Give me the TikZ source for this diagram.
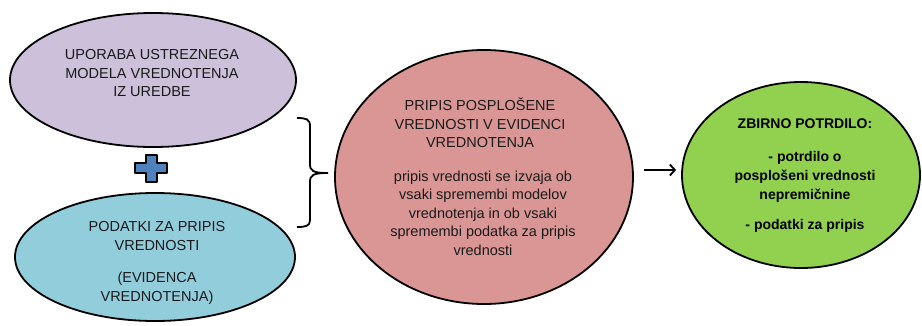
\documentclass[tikz,border=0pt]{standalone}
\usepackage{fontspec}
\setmainfont{Liberation Sans}
\usetikzlibrary{shapes.geometric,arrows.meta}
\definecolor{cPurple}{HTML}{CCC0DA}
\definecolor{cBlue}{HTML}{92CDDC}
\definecolor{cPink}{HTML}{D99694}
\definecolor{cGreen}{HTML}{92D050}
\definecolor{cPlus}{HTML}{4F81BD}
\definecolor{cText}{HTML}{1A1A1A}
\tikzset{
  oval/.style={ellipse, draw=black, line width=1.8pt, inner sep=0pt},
  txt/.style={align=center, inner sep=0pt, text=cText, font=\fontsize{14.5}{18.5}\selectfont},
  btxt/.style={align=center, inner sep=0pt, text=black, font=\bfseries\fontsize{14}{19}\selectfont},
  arr/.style={line width=1.8pt, -{Straight Barb[length=5pt,width=11pt,line width=1.8pt]}},
}
\begin{document}
\begin{tikzpicture}[x=1pt,y=-1pt]
\useasboundingbox (0,0) rectangle (922,325);
% ellipses
\node[oval, fill=cPurple, minimum width=286, minimum height=134] (model) at (153,80) {};
\node[oval, fill=cBlue, minimum width=280, minimum height=128] (data) at (155,257) {};
\node[oval, fill=cPink, minimum width=298, minimum height=254] (pink) at (484,177) {};
\node[oval, fill=cGreen, minimum width=238, minimum height=186] (green) at (801,175) {};
% texts
\node[txt] (t1) at (152,73.5) {UPORABA USTREZNEGA\\MODELA VREDNOTENJA\\IZ UREDBE};
\node[txt] (t2) at (157,236) {PODATKI ZA PRIPIS\\VREDNOSTI};
\node[txt] (t3) at (157,288) {(EVIDENCA\\VREDNOTENJA)};
\node[txt] (t4) at (480,123) {PRIPIS POSPLOŠENE\\VREDNOSTI V EVIDENCI\\VREDNOTENJA};
\node[txt] (t5) at (483,213) {pripis vrednosti se izvaja ob\\vsaki spremembi modelov\\vrednotenja in ob vsaki\\spremembi podatka za pripis\\vrednosti};
\node[btxt] (g1) at (805,124) {ZBIRNO POTRDILO:};
\node[btxt] (g2) at (805,177) {- potrdilo o\\posplošeni vrednosti\\nepremičnine};
\node[btxt] (g3) at (805,226) {- podatki za pripis};
% plus sign
\draw[fill=cPlus, line width=1.4pt, line join=round]
  (146,155)--(157,155)--(157,163)--(167,163)--(167,173)--(157,173)--(157,182)
  --(146,182)--(146,173)--(135,173)--(135,163)--(146,163)--cycle;
% brace
\coordinate (tip) at (328,173);
\draw[line width=1.8pt]
  (297,118) .. controls (306,118) and (310,119) .. (310,126) -- (310,164)
  .. controls (310,171) and (313,173) .. (tip)
  .. controls (313,173) and (310,175) .. (310,182) -- (310,220)
  .. controls (310,226) and (306,227) .. (297,227);
% arrow
\draw[arr, shorten <=10pt, shorten >=5pt] (pink.east |- 0,170) -- (green.west |- 0,170);
\end{tikzpicture}
\end{document}
